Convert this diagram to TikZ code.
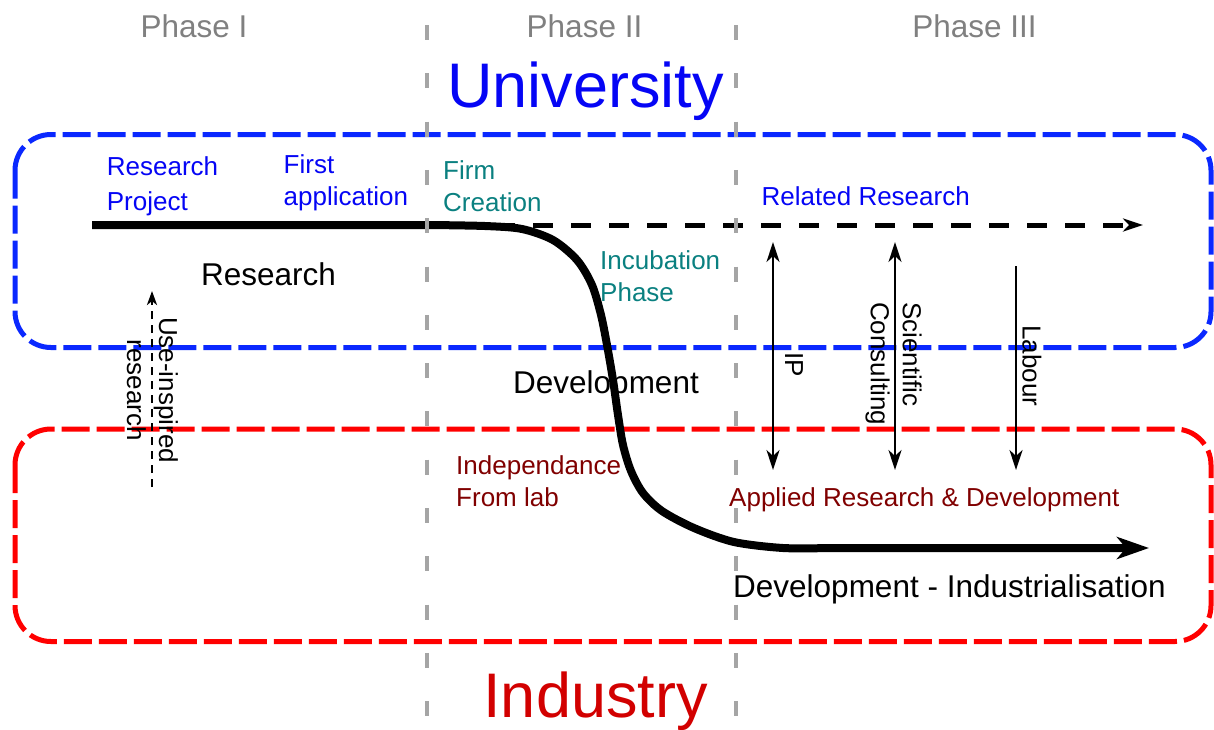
\documentclass[tikz,border=0pt]{standalone}
\usepackage{fontspec}
\setmainfont{Liberation Sans}
\usetikzlibrary{arrows.meta}
\definecolor{ublue}{RGB}{5,5,245}
\definecolor{boxblue}{RGB}{10,40,255}
\definecolor{boxred}{RGB}{255,0,0}
\definecolor{ired}{RGB}{210,0,0}
\definecolor{tealc}{RGB}{10,128,128}
\definecolor{dred}{RGB}{128,0,0}
\definecolor{phgray}{RGB}{128,128,128}
\definecolor{lgray}{RGB}{165,165,165}
\newcommand\myS{\fontsize{26}{32}\selectfont}
\newcommand\myM{\fontsize{31.5}{38}\selectfont}
\newcommand\myL{\fontsize{63}{70}\selectfont}
\begin{document}
\begin{tikzpicture}[x=1pt,y=-1pt,
  lbl/.style={inner sep=0pt,font=\myS,align=left,anchor=base west},
  biglbl/.style={inner sep=0pt,font=\myM,anchor=base west},
  rlbl/.style={inner sep=0pt,font=\myS,rotate=-90},
  zone/.style={line width=5pt,dash pattern=on 28pt off 7pt,rounded corners=36pt},
  phaseline/.style={lgray,line width=4pt,dash pattern=on 15pt off 33.3pt},
  flow/.style={line width=2.5pt},
  ftip/.style={Stealth[length=20pt,width=13pt,inset=6pt]}]
\useasboundingbox (0,0) rectangle (1214,729);

% zones
\draw[zone,boxblue] (15,134.5) rectangle (1211,347.5);
\draw[zone,boxred] (15,429) rectangle (1211,641.5);

% titles
\node[font=\myM,phgray,anchor=base,inner sep=0pt] (p1) at (194,37) {Phase I};
\node[font=\myM,phgray,anchor=base,inner sep=0pt] (p2) at (584.5,37) {Phase II};
\node[font=\myM,phgray,anchor=base,inner sep=0pt] (p3) at (974.5,37) {Phase III};
\node[font=\myL,ublue,anchor=base,inner sep=0pt] (uni) at (585.5,107) {University};
\node[font=\myL,ired,anchor=base,inner sep=0pt] (ind) at (595.5,717) {Industry};

% labels (base = baseline of last line)
\node[lbl,ublue] (rp) at (106.7,210) {Research\\[3pt]Project};
\node[lbl,ublue] (fa) at (283.5,205) {First\\application};
\node[lbl,tealc] (fc) at (443,211) {Firm\\Creation};
\node[lbl,tealc] (ip2) at (600,301.7) {Incubation\\Phase};
\node[lbl,ublue] (rr) at (761.5,205) {Related Research};
\node[biglbl] (res) at (201,285.7) {Research};
\node[biglbl] (dev) at (513,393.3) {Development};
\node[lbl,dred] (indep) at (456,506.7) {Independance\\From lab};
\node[lbl,dred] (ard) at (729,506.7) {Applied Research \& Development};
\node[biglbl] (devind) at (733,597.7) {Development - Industrialisation};

% rotated labels
\node[rlbl,anchor=west] (lip) at (794,352) {IP};
\node[rlbl,anchor=west,align=left] (lsc) at (893.5,302) {Scientific\\Consulting};
\node[rlbl,anchor=west] (llab) at (1032,325) {Labour};
\node[rlbl,align=center] (luse) at (152.5,390) {Use-inspired\\research};

% main trajectory
\coordinate (s) at (92,225);
\coordinate (e) at (1149,548);
\draw[line width=8pt,-{Stealth[length=32pt,width=22pt,inset=9pt]}]
  (s) -- plot[smooth,tension=0.5] coordinates {(430,225) (485,226) (522,229) (553,240)
  (577,260) (592,285) (601,315) (607,345) (613,380) (618,415) (623,445) (631,471)
  (643,493) (662,511) (694,528) (734,542) (783,548) (830,548)} -- (e);

% related research dashed arrow
\coordinate (d1) at (495,225);
\coordinate (d2) at (1143,225);
\draw[line width=5pt,dash pattern=on 20pt off 18pt,-{Stealth[length=20pt,width=13pt,inset=6pt]}] (d1) -- (d2);

% exchange arrows
\coordinate (ipt) at (773,242); \coordinate (ipb) at (773,470);
\coordinate (sct) at (895,242); \coordinate (scb) at (895,470);
\coordinate (lat) at (1016,266); \coordinate (lab) at (1016,470);
\draw[flow,{Stealth[length=20pt,width=13pt,inset=6pt]}-{Stealth[length=20pt,width=13pt,inset=6pt]}] (ipt) -- (ipb);
\draw[flow,{Stealth[length=20pt,width=13pt,inset=6pt]}-{Stealth[length=20pt,width=13pt,inset=6pt]}] (sct) -- (scb);
\draw[flow,-{Stealth[length=20pt,width=13pt,inset=6pt]}] (lat) -- (lab);

% use-inspired research
\coordinate (ub) at (152,487); \coordinate (ut) at (152,291);
\draw[line width=2.5pt,dash pattern=on 8pt off 6pt,-{Stealth[length=14pt,width=10pt,inset=4pt]}] (ub) -- (ut);

% phase separators
\coordinate (g1t) at (427,25); \coordinate (g1b) at (427,729);
\coordinate (g2t) at (736,25); \coordinate (g2b) at (736,729);
\draw[phaseline] (g1t) -- (g1b);
\draw[phaseline] (g2t) -- (g2b);
\end{tikzpicture}
\end{document}
